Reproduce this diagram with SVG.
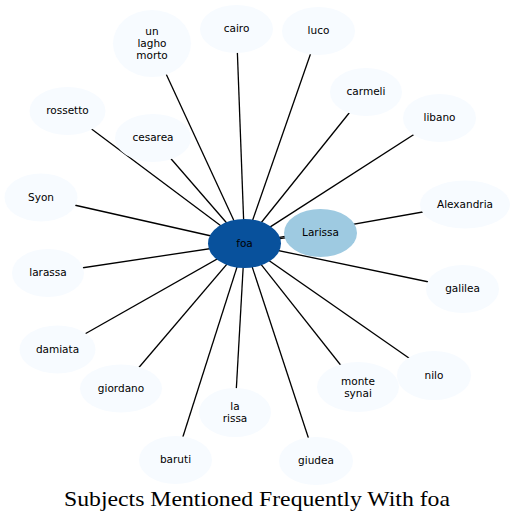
<svg xmlns="http://www.w3.org/2000/svg" width="514" height="521" viewBox="0 0 514 521">
<style>
.e{stroke:#000;stroke-width:1.3;fill:none}
.n{fill:#f7fbff}
.t{font-family:"DejaVu Sans",sans-serif;font-size:10.5px;fill:#000;text-anchor:middle;dominant-baseline:central}
</style>
<rect width="514" height="521" fill="#fff"/>
<g id="edges">
<line class="e" x1="244.5" y1="243.5" x2="152" y2="43.5"/>
<line class="e" x1="244.5" y1="243.5" x2="236.5" y2="29"/>
<line class="e" x1="244.5" y1="243.5" x2="318.5" y2="31"/>
<line class="e" x1="244.5" y1="243.5" x2="366" y2="92"/>
<line class="e" x1="244.5" y1="243.5" x2="439.5" y2="118"/>
<line class="e" x1="244.5" y1="243.5" x2="465" y2="204.5"/>
<line class="e" x1="244.5" y1="243.5" x2="320.5" y2="233"/>
<line class="e" x1="244.5" y1="243.5" x2="462.5" y2="289"/>
<line class="e" x1="244.5" y1="243.5" x2="434" y2="375.5"/>
<line class="e" x1="244.5" y1="243.5" x2="358" y2="387"/>
<line class="e" x1="244.5" y1="243.5" x2="316" y2="461"/>
<line class="e" x1="244.5" y1="243.5" x2="235" y2="412.5"/>
<line class="e" x1="244.5" y1="243.5" x2="175.5" y2="460"/>
<line class="e" x1="244.5" y1="243.5" x2="121" y2="388.5"/>
<line class="e" x1="244.5" y1="243.5" x2="57.5" y2="349.5"/>
<line class="e" x1="244.5" y1="243.5" x2="48" y2="273"/>
<line class="e" x1="244.5" y1="243.5" x2="41" y2="197.5"/>
<line class="e" x1="244.5" y1="243.5" x2="67.5" y2="111"/>
<line class="e" x1="244.5" y1="243.5" x2="153" y2="138"/>
</g>
<g id="unlaghomorto"><ellipse class="n" cx="152" cy="43.5" rx="39" ry="33.5"/><text class="t" x="152" y="31">un</text><text class="t" x="152" y="43">lagho</text><text class="t" x="152" y="55">morto</text></g>
<g id="cairo"><ellipse class="n" cx="236.5" cy="29" rx="36.5" ry="24"/><text class="t" x="236.5" y="28">cairo</text></g>
<g id="luco"><ellipse class="n" cx="318.5" cy="31" rx="36.5" ry="24"/><text class="t" x="318.5" y="30">luco</text></g>
<g id="carmeli"><ellipse class="n" cx="366" cy="92" rx="36" ry="24"/><text class="t" x="366" y="91">carmeli</text></g>
<g id="libano"><ellipse class="n" cx="439.5" cy="118" rx="36.5" ry="24"/><text class="t" x="439.5" y="117">libano</text></g>
<g id="Alexandria"><ellipse class="n" cx="465" cy="204.5" rx="45" ry="24"/><text class="t" x="465" y="203.5">Alexandria</text></g>
<g id="rossetto"><ellipse class="n" cx="67.5" cy="111" rx="38" ry="24"/><text class="t" x="67.5" y="110">rossetto</text></g>
<g id="cesarea"><ellipse class="n" cx="153" cy="138" rx="38" ry="24"/><text class="t" x="153" y="137">cesarea</text></g>
<g id="Syon"><ellipse class="n" cx="41" cy="197.5" rx="36.5" ry="24"/><text class="t" x="41" y="196.5">Syon</text></g>
<g id="larassa"><ellipse class="n" cx="48" cy="273" rx="36" ry="24"/><text class="t" x="48" y="272">larassa</text></g>
<g id="damiata"><ellipse class="n" cx="57.5" cy="349.5" rx="38" ry="24"/><text class="t" x="57.5" y="348.5">damiata</text></g>
<g id="giordano"><ellipse class="n" cx="121" cy="388.5" rx="41" ry="24"/><text class="t" x="121" y="387.5">giordano</text></g>
<g id="larissa2"><ellipse class="n" cx="235" cy="412.5" rx="36" ry="24.5"/><text class="t" x="235" y="405.5">la</text><text class="t" x="235" y="417.5">rissa</text></g>
<g id="baruti"><ellipse class="n" cx="175.5" cy="460" rx="36.5" ry="24"/><text class="t" x="175.5" y="459">baruti</text></g>
<g id="giudea"><ellipse class="n" cx="316" cy="461" rx="37" ry="24"/><text class="t" x="316" y="460">giudea</text></g>
<g id="montesynai"><ellipse class="n" cx="358" cy="387" rx="41" ry="25"/><text class="t" x="358" y="380.5">monte</text><text class="t" x="358" y="392.5">synai</text></g>
<g id="nilo"><ellipse class="n" cx="434" cy="375.5" rx="37" ry="24.5"/><text class="t" x="434" y="374.5">nilo</text></g>
<g id="galilea"><ellipse class="n" cx="462.5" cy="289" rx="36.5" ry="24"/><text class="t" x="462.5" y="288">galilea</text></g>
<g id="Larissa"><ellipse cx="320.5" cy="233" rx="36.5" ry="24" fill="#9ecae1"/><text class="t" x="320.5" y="232">Larissa</text></g>
<g id="foa"><ellipse cx="244.5" cy="243.5" rx="36.5" ry="24.5" fill="#08519c"/><text class="t" x="244.5" y="242.5">foa</text></g>
<text x="257" y="506" font-family="'Liberation Serif',serif" font-size="22" text-anchor="middle" textLength="386" lengthAdjust="spacingAndGlyphs">Subjects Mentioned Frequently With foa</text>
</svg>
